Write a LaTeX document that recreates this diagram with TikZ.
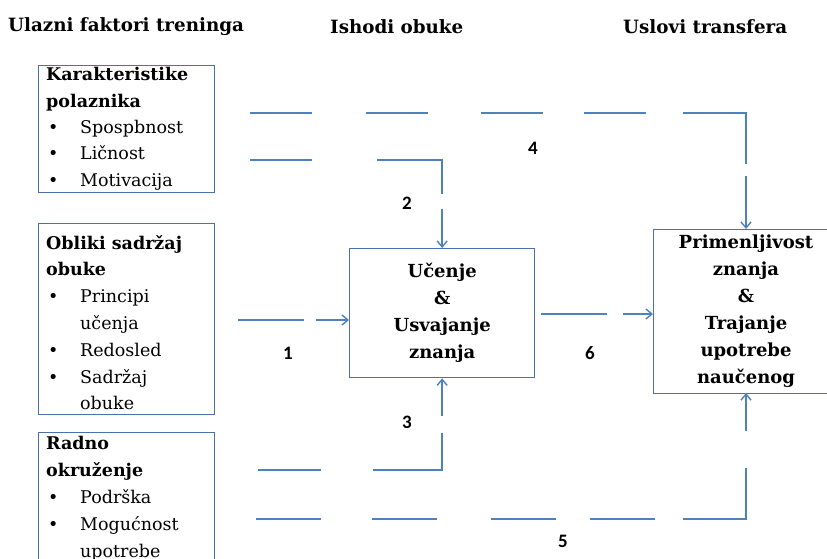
\documentclass[tikz,border=0pt]{standalone}
\usepackage{fontspec}
\setmainfont{DejaVu Serif}
\newfontfamily\numfont{Carlito}
\usetikzlibrary{arrows.meta}
\definecolor{boxline}{HTML}{4A71A8}
\definecolor{linkblue}{HTML}{4F81BD}

% one bulleted entry, and a continuation line aligned with the entry text
\newcommand\bitem[1]{\hbox{\hbox to 34pt{\hspace{2pt}\textbullet\hss}#1}}
\newcommand\bcont[1]{\hbox{\hspace{34pt}#1}}

\begin{document}
\begin{tikzpicture}[x=1pt,y=-1pt,
  box/.style={draw=boxline, line width=1.3pt, anchor=north west, inner sep=0pt},
  boxtext/.style={anchor=base west, inner sep=0pt, font=\fontsize{17.5}{26}\selectfont},
  centertext/.style={align=center, inner sep=0pt, font=\bfseries\fontsize{18}{27}\selectfont},
  head/.style={anchor=west, inner sep=0pt, font=\bfseries\fontsize{18.3}{20}\selectfont},
  link/.style={draw=linkblue, line width=1.4pt, -{Straight Barb[length=6pt,width=10pt]}},
  num/.style={inner sep=0pt, font=\numfont\bfseries\fontsize{19}{20}\selectfont}]

\clip (0,0) rectangle (827,559);

% column headings
\node[head] (h1) at (8,27) {Ulazni faktori treninga};
\node[head] (h2) at (330,27) {Ishodi obuke};
\node[head] (h3) at (623,27) {Uslovi transfera};

% input factor boxes
\node[box, minimum width=176pt, minimum height=127pt] (A) at (38,65) {};
\node[boxtext] (At) at (46,81) {\vtop{\baselineskip=26.3pt
  \hbox{\bfseries Karakteristike}
  \hbox{\bfseries polaznika}
  \bitem{Spospbnost}
  \bitem{Li\v{c}nost}
  \bitem{Motivacija}}};

\node[box, minimum width=176pt, minimum height=191pt] (B) at (38,223) {};
\node[boxtext] (Bt) at (46,249) {\vtop{\baselineskip=26.8pt
  \hbox{\bfseries Obliki sadržaj}
  \hbox{\bfseries obuke}
  \bitem{Principi}
  \bcont{učenja}
  \bitem{Redosled}
  \bitem{Sadržaj}
  \bcont{obuke}}};

\node[box, minimum width=176pt, minimum height=160pt] (C) at (38,432) {};
\node[boxtext] (Ct) at (46,449) {\vtop{\baselineskip=27pt
  \hbox{\bfseries Radno}
  \hbox{\bfseries okruženje}
  \bitem{Podrška}
  \bitem{Mogućnost}
  \bcont{upotrebe}}};

% outcome and transfer boxes
\node[box, minimum width=185pt, minimum height=129pt] (D) at (349,248) {};
\node[centertext] (Dt) at (D.center) {Učenje\\\&\\Usvajanje\\znanja};

\node[box, minimum width=186pt, minimum height=164pt] (E) at (653,229) {};
\node[centertext] (Et) at (746,311) {Primenljivost\\znanja\\\&\\Trajanje\\upotrebe\\naučenog};

% free starting ends of the connectors
\coordinate (s4) at (250,113);
\coordinate (s2) at (250,160);
\coordinate (s1) at (238,320);
\coordinate (s6) at (541,314);
\coordinate (s3) at (258,470);
\coordinate (s5) at (256,519);
\coordinate (eTop) at (746,229);
\coordinate (eBot) at (746,393);

% connectors
\draw[link, dash pattern=on 62pt off 54pt on 62pt off 53pt on 62pt off 41pt on 62pt off 37pt on 114pt off 12pt on 80pt]
  (s4) -| (eTop);
\draw[link, dash pattern=on 62pt off 65pt on 99pt off 15pt on 60pt]
  (s2) -| (D.north);
\draw[link, dash pattern=on 66pt off 12pt on 60pt]
  (s1) -- (s1 -| D.west);
\draw[link, dash pattern=on 66pt off 16pt on 60pt]
  (s6) -- (s6 -| E.west);
\draw[link, dash pattern=on 63pt off 52pt on 106pt off 17pt on 60pt]
  (s3) -| (D.south);
\draw[link, dash pattern=on 65pt off 51pt on 65pt off 54pt on 65pt off 34pt on 65pt off 28pt on 114pt off 37pt on 60pt]
  (s5) -| (eBot);

% connector numbers
\node[num] (n4) at (533,148) {4};
\node[num] (n2) at (407,203) {2};
\node[num] (n1) at (288,353) {1};
\node[num] (n6) at (590,353) {6};
\node[num] (n3) at (407,422) {3};
\node[num] (n5) at (563,541) {5};
\end{tikzpicture}
\end{document}
